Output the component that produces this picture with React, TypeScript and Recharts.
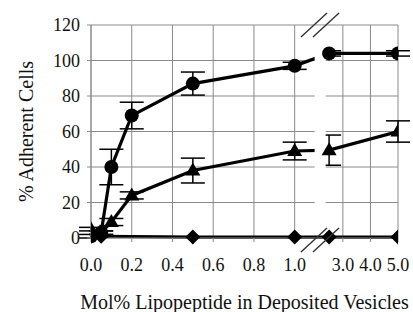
import React from 'react';
import {
  ComposedChart,
  Line,
  Scatter,
  ErrorBar,
  XAxis,
  YAxis,
  CartesianGrid,
  ReferenceArea,
  Label,
} from 'recharts';

// mol% values, the x axis is broken between 1.0 and 2.5
const circleX = [0, 0.05, 0.1, 0.2, 0.5, 1.0, 2.5, 5.0];
const circleY = [1, 3, 40, 69, 87, 97, 104, 104];
const circleErr = [1, 1, 10, 7.5, 6.5, 2, 1.5, 1.5];

const triangleX = [0, 0.05, 0.1, 0.2, 0.5, 1.0, 2.5, 5.0];
const triangleY = [5, 3, 9, 24, 38, 49, 49.5, 60];
const triangleErr = [1, 1, 2, 2, 7, 5, 8.5, 6];

const diamondX = [0, 0.05, 0.5, 1.0, 2.5, 5.0];
const diamondY = [1, 1, 0.5, 0.5, 0.5, 0.5];

const xTickValues = [0, 0.2, 0.4, 0.6, 0.8, 1.0, 3.0, 4.0, 5.0];
const xTickLabels = ['0.0', '0.2', '0.4', '0.6', '0.8', '1.0', '3.0', '4.0', '5.0'];
const yTicks = [0, 20, 40, 60, 80, 100, 120];

// broken axis: 0..1 is linear, 2.5..5 is compressed and shifted right
const RIGHT_START = 2.5;
const RIGHT_OFFSET = 1.169;
const RIGHT_SCALE = 0.1353;
const toAxis = (x: number) => (x <= 1 ? x : RIGHT_OFFSET + (x - RIGHT_START) * RIGHT_SCALE);

const build = (xs: number[], ys: number[], errs?: number[]) =>
  xs.map((x, i) => ({ t: toAxis(x), y: ys[i], err: errs ? errs[i] : 0 }));

const circles = build(circleX, circleY, circleErr);
const triangles = build(triangleX, triangleY, triangleErr);
const diamonds = build(diamondX, diamondY);

const FONT = '"Liberation Serif", "Times New Roman", serif';
const GRID = '#8a8a8a';

const XTick = (p: any) => (
  <text x={p.x} y={p.y} dy={27} textAnchor="middle" fontFamily={FONT} fontSize={18} fill="#111">
    {xTickLabels[p.index]}
  </text>
);

const YTick = (p: any) => (
  <text x={p.x} y={p.y} dy={6} textAnchor="end" fontFamily={FONT} fontSize={18} fill="#111">
    {p.payload.value}
  </text>
);

const XTitle = (p: any) => {
  const vb = p.viewBox;
  return (
    <text
      x={vb.x + vb.width / 2}
      y={vb.y + vb.height - 3}
      textAnchor="middle"
      fontFamily={FONT}
      fontSize={20}
      fill="#111"
    >
      Mol% Lipopeptide in Deposited Vesicles
    </text>
  );
};

const YTitle = (p: any) => {
  const vb = p.viewBox;
  const cx = vb.x + 33;
  const cy = vb.y + vb.height / 2;
  return (
    <text
      x={cx}
      y={cy}
      transform={`rotate(-90, ${cx}, ${cy})`}
      textAnchor="middle"
      fontFamily={FONT}
      fontSize={20}
      fill="#111"
    >
      % Adherent Cells
    </text>
  );
};

const CircleDot = (p: any) => <circle cx={p.cx} cy={p.cy} r={7} fill="#000" />;
const TriangleDot = (p: any) => (
  <polygon
    points={`${p.cx},${p.cy - 8} ${p.cx - 7.5},${p.cy + 5} ${p.cx + 7.5},${p.cy + 5}`}
    fill="#000"
  />
);
const DiamondDot = (p: any) => (
  <polygon
    points={`${p.cx},${p.cy - 7.5} ${p.cx + 7.5},${p.cy} ${p.cx},${p.cy + 7.5} ${p.cx - 7.5},${p.cy}`}
    fill="#000"
  />
);

function BreakMark({ x, y }: { x: number; y: number }) {
  return (
    <g transform={`translate(${x},${y})`} stroke="#333" strokeWidth={1.4}>
      <line x1={-19} y1={12} x2={7} y2={-12} />
      <line x1={-7} y1={12} x2={19} y2={-12} />
    </g>
  );
}

export default function App() {
  return (
    <div style={{ position: 'absolute', left: 0, top: 0, width: 413, height: 312, background: '#fff' }}>
      <ComposedChart width={413} height={312} margin={{ top: 25, right: 15, bottom: 0, left: 0 }}>
        <CartesianGrid stroke={GRID} strokeWidth={1} />
        <XAxis
          dataKey="t"
          type="number"
          domain={[0, toAxis(5)]}
          ticks={xTickValues.map(toAxis)}
          interval={0}
          height={74}
          tickSize={4}
          tickMargin={2}
          stroke={GRID}
          tick={XTick}
          allowDataOverflow
        >
          <Label content={XTitle} />
        </XAxis>
        <YAxis
          type="number"
          domain={[0, 120]}
          ticks={yTicks}
          interval={0}
          width={91}
          tickSize={4}
          tickMargin={7}
          stroke={GRID}
          tick={YTick}
        >
          <Label content={YTitle} />
        </YAxis>
        <Line data={circles} dataKey="y" type="linear" stroke="#000" strokeWidth={3.2} dot={false} isAnimationActive={false} />
        <Line data={triangles} dataKey="y" type="linear" stroke="#000" strokeWidth={3.2} dot={false} isAnimationActive={false} />
        <Line data={diamonds} dataKey="y" type="linear" stroke="#000" strokeWidth={3.2} dot={false} isAnimationActive={false} />
        {/* white gap of the axis break */}
        <ReferenceArea
          x1={1.098}
          x2={1.152}
          y1={2.4}
          y2={119.6}
          fill="#fff"
          fillOpacity={1}
          stroke="none"
          zIndex={450}
        />
        <Scatter data={circles} dataKey="y" shape={CircleDot} isAnimationActive={false}>
          <ErrorBar dataKey="err" direction="y" width={12} stroke="#000" strokeWidth={1.5} />
        </Scatter>
        <Scatter data={triangles} dataKey="y" shape={TriangleDot} isAnimationActive={false}>
          <ErrorBar dataKey="err" direction="y" width={12} stroke="#000" strokeWidth={1.5} />
        </Scatter>
        <Scatter data={diamonds} dataKey="y" shape={DiamondDot} isAnimationActive={false} />
      </ComposedChart>
      <svg width={413} height={312} style={{ position: 'absolute', left: 0, top: 0, pointerEvents: 'none' }}>
        <BreakMark x={320} y={25} />
        <BreakMark x={320} y={240} />
      </svg>
    </div>
  );
}
